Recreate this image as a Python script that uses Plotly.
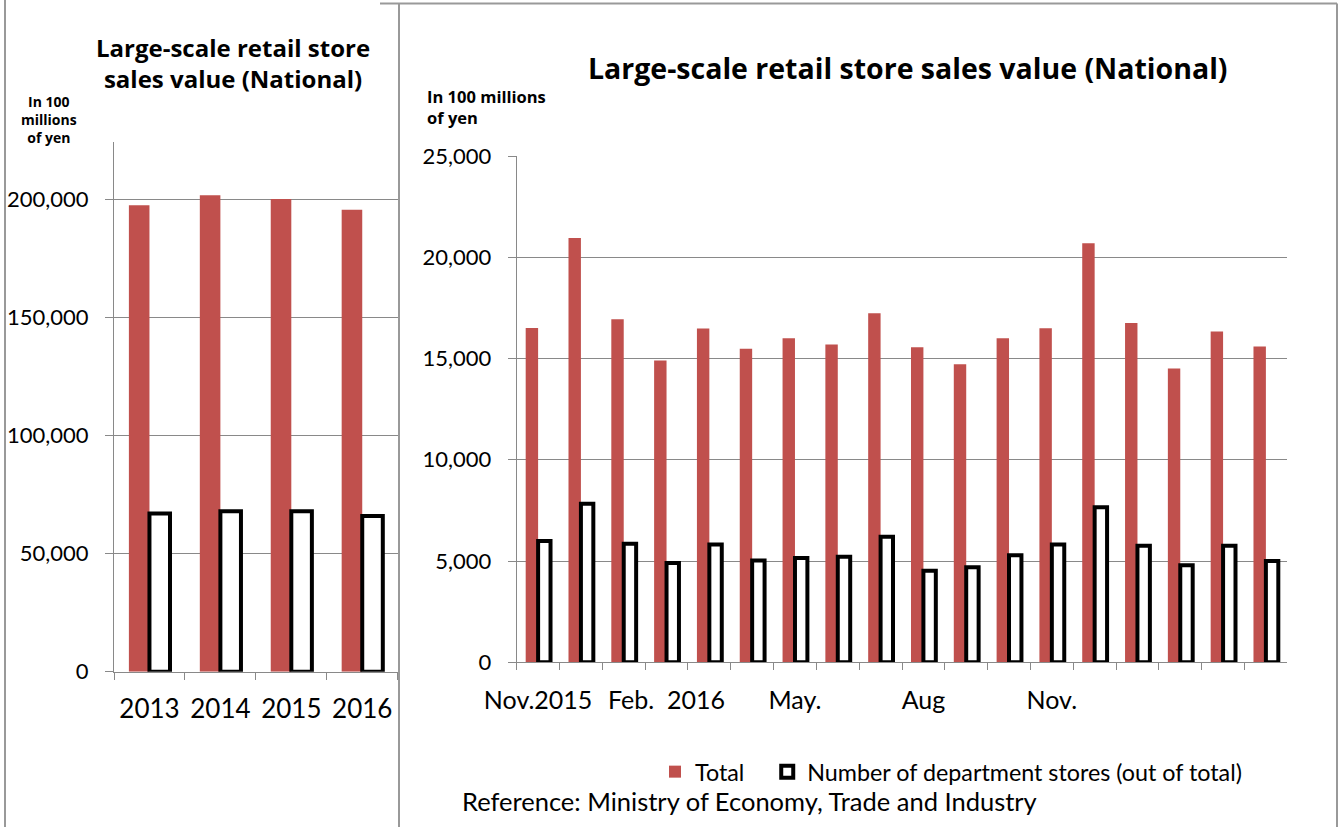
import plotly.graph_objects as go

# yearly totals (in 100 millions of yen)
years = ['2013', '2014', '2015', '2016']
year_total = [197700, 201900, 200300, 195800]
year_dept = [67000, 68000, 68000, 66000]

# monthly, Nov.2015 - Apr.2017
months = ['Nov.2015', 'Dec.2015', 'Jan.2016', 'Feb.2016', 'Mar.2016', 'Apr.2016',
          'May.2016', 'Jun.2016', 'Jul.2016', 'Aug.2016', 'Sep.2016', 'Oct.2016',
          'Nov.2016', 'Dec.2016', 'Jan.2017', 'Feb.2017', 'Mar.2017', 'Apr.2017']
month_labels = ['Nov.2015', '', '', 'Feb.\u00a0 2016', '', '', 'May.', '', '', 'Aug',
                '', '', 'Nov.', '', '', '', '', '']
month_total = [16510, 20950, 16940, 14900, 16480, 15480, 16000, 15690, 17240,
               15560, 14720, 16000, 16500, 20690, 16760, 14510, 16330, 15590]
month_dept = [5990, 7830, 5850, 4900, 5820, 5030, 5150, 5210, 6200,
              4520, 4690, 5280, 5820, 7650, 5750, 4790, 5750, 5000]

W, H = 1340, 827
RED = '#C0504D'
GRID = '#898989'
FONT = 'Lato, Open Sans, sans-serif'
BOLD = 'Open Sans, Lato, sans-serif'


def px(x):
    return x / W


def py(y):
    return 1 - y / H


fig = go.Figure()
fig.add_trace(go.Bar(x=years, y=year_total, marker_color=RED, showlegend=False,
                     xaxis='x', yaxis='y'))
fig.add_trace(go.Bar(x=years, y=year_dept, marker=dict(color='white', line=dict(color='black', width=4)),
                     showlegend=False, xaxis='x', yaxis='y'))
fig.add_trace(go.Bar(x=months, y=month_total, name='Total\u00a0\u00a0\u00a0', marker_color=RED,
                     xaxis='x2', yaxis='y2'))
fig.add_trace(go.Bar(x=months, y=month_dept, name='Number of department stores (out of total)',
                     marker=dict(color='white', line=dict(color='black', width=4)),
                     xaxis='x2', yaxis='y2'))

xstyle = dict(type='category', tickson='boundaries', ticks='outside', ticklen=7, tickcolor=GRID,
              showline=True, linecolor=GRID, linewidth=1, showgrid=False, ticklabelstandoff=16,
              tickangle=0, automargin=False)
ystyle = dict(ticks='outside', ticklen=8, tickcolor=GRID, showline=True, linecolor=GRID,
              linewidth=1, showgrid=True, gridcolor=GRID, gridwidth=1, zeroline=False,
              tickformat=',', tickfont=dict(size=22), ticklabelstandoff=12, automargin=False)

fig.update_layout(
    template='none',
    width=W, height=H,
    margin=dict(l=0, r=0, t=0, b=0, autoexpand=False),
    paper_bgcolor='white', plot_bgcolor='white',
    font=dict(family=FONT, color='black', size=22),
    barmode='group', bargap=0.42, bargroupgap=0,
    xaxis=dict(xstyle, domain=[px(114), px(397.7)], anchor='y', tickfont=dict(size=26),
               ticklabelstandoff=14),
    yaxis=dict(ystyle, domain=[py(671.7), py(141.7)], anchor='x', range=[0, 224600],
               tickvals=[0, 50000, 100000, 150000, 200000]),
    xaxis2=dict(xstyle, domain=[px(516.7), px(1287.3)], anchor='y2', tickfont=dict(size=25),
                tickmode='array', tickvals=months, ticktext=month_labels),
    yaxis2=dict(ystyle, domain=[py(662.3), py(156)], anchor='x2', range=[0, 25000], dtick=5000),
    legend=dict(orientation='h', x=px(655), xanchor='left', y=py(772), yanchor='middle',
                font=dict(size=23.3), bgcolor='rgba(0,0,0,0)', traceorder='normal'),
)

note = dict(xref='paper', yref='paper', showarrow=False, yanchor='middle')
fig.add_annotation(note, text='<b>Large-scale retail store<br>sales value (National)</b>',
                   x=px(232.5), y=py(62.5), xanchor='center', align='center',
                   font=dict(family=BOLD, size=24))
fig.add_annotation(note, text='<b>Large-scale retail store sales value (National)</b>',
                   x=px(908), y=py(68), xanchor='center', font=dict(family=BOLD, size=28.5))
fig.add_annotation(note, text='<b>In 100<br>millions<br>of yen</b>', x=px(48.5), y=py(120),
                   xanchor='center', align='center', font=dict(family=BOLD, size=14))
fig.add_annotation(note, text='<b>In 100 millions<br>of yen</b>', x=px(425), y=py(107),
                   xanchor='left', align='left', font=dict(family=BOLD, size=16.5))
fig.add_annotation(note, text='Reference: Ministry of Economy, Trade and Industry',
                   x=px(460), y=py(800.5), xanchor='left', font=dict(size=25.5))

# panel frames
frame = dict(type='line', xref='paper', yref='paper', line=dict(color='#999999', width=2))
fig.add_shape(frame, x0=px(5), x1=px(5), y0=py(0), y1=py(827))
fig.add_shape(frame, x0=px(399), x1=px(399), y0=py(3.5), y1=py(827))
fig.add_shape(frame, x0=px(380), x1=px(1337), y0=py(3.5), y1=py(3.5))
fig.add_shape(frame, x0=px(1337), x1=px(1337), y0=py(3.5), y1=py(827))

fig.write_html('out.html', config={'displayModeBar': False},
               post_script="document.body.style.margin='0';")
